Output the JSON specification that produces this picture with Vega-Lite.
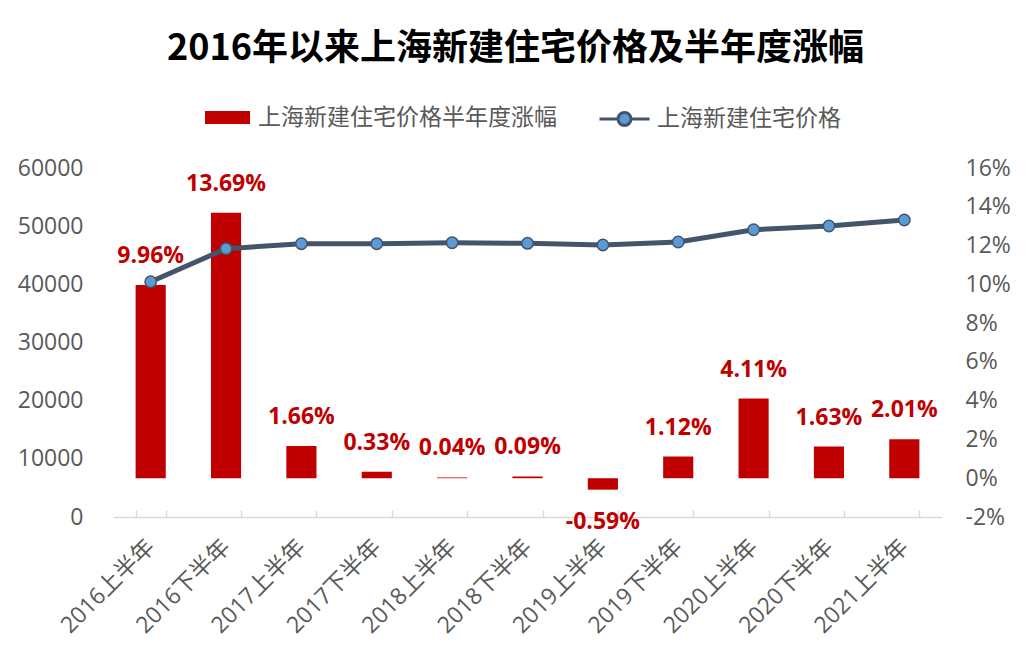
{
  "$schema": "https://vega.github.io/schema/vega-lite/v6.json",
  "autosize": "none",
  "width": 829,
  "height": 349,
  "padding": {"left": 113, "top": 168, "right": 84, "bottom": 143},
  "background": "white",
  "config": {"view": {"stroke": null}, "font": "Open Sans, Noto Sans CJK SC"},
  "title": {
    "text": "2016年以来上海新建住宅价格及半年度涨幅",
    "font": "Noto Sans CJK SC",
    "fontSize": 36,
    "fontWeight": "bold",
    "color": "#000000",
    "anchor": "middle",
    "dx": -12,
    "offset": 25
  },
  "data": {
    "values": [
      {"period": "2016上半年", "pct": 9.96, "label": "9.96%", "price": 40450},
      {"period": "2016下半年", "pct": 13.69, "label": "13.69%", "price": 46130},
      {"period": "2017上半年", "pct": 1.66, "label": "1.66%", "price": 46980},
      {"period": "2017下半年", "pct": 0.33, "label": "0.33%", "price": 46990},
      {"period": "2018上半年", "pct": 0.04, "label": "0.04%", "price": 47160},
      {"period": "2018下半年", "pct": 0.09, "label": "0.09%", "price": 47050},
      {"period": "2019上半年", "pct": -0.59, "label": "-0.59%", "price": 46760},
      {"period": "2019下半年", "pct": 1.12, "label": "1.12%", "price": 47280},
      {"period": "2020上半年", "pct": 4.11, "label": "4.11%", "price": 49390},
      {"period": "2020下半年", "pct": 1.63, "label": "1.63%", "price": 50030},
      {"period": "2021上半年", "pct": 2.01, "label": "2.01%", "price": 51060}
    ]
  },
  "encoding": {
    "x": {
      "field": "period",
      "type": "nominal",
      "sort": null,
      "scale": {"paddingInner": 0.6, "paddingOuter": 0.3},
      "axis": {
        "title": null,
        "labelAngle": -45,
        "labelAlign": "right",
        "labelBaseline": "middle",
        "labelFontSize": 23,
        "labelColor": "#595959",
        "labelPadding": 33,
        "labelOverlap": false,
        "tickBand": "extent",
        "domainColor": "#D9D9D9",
        "domainWidth": 1.5,
        "tickColor": "#D9D9D9",
        "tickWidth": 1.5,
        "tickSize": -7,
        "grid": false
      }
    }
  },
  "layer": [
    {
      "encoding": {
        "y": {
          "field": "pct",
          "type": "quantitative",
          "scale": {"domain": [-2, 16], "nice": false},
          "axis": {
            "orient": "right",
            "title": null,
            "values": [-2, 0, 2, 4, 6, 8, 10, 12, 14, 16],
            "labelExpr": "datum.value + '%'",
            "labelOverlap": false,
            "labelFlush": false,
            "domain": false,
            "ticks": false,
            "grid": false,
            "labelFontSize": 23,
            "labelColor": "#595959",
            "labelPadding": 23
          }
        }
      },
      "layer": [
        {
          "mark": {"type": "bar", "color": "#C00000"},
          "encoding": {
            "y2": {"datum": 0},
            "color": {
              "datum": "上海新建住宅价格半年度涨幅",
              "type": "nominal",
              "scale": {"range": ["#C00000"]},
              "legend": {
                "orient": "none",
                "legendX": 92,
                "legendY": -73,
                "title": null,
                "padding": 0,
                "symbolType": "M-1,-0.29H1V0.29H-1Z",
                "symbolSize": 2025,
                "symbolStrokeWidth": 0,
                "labelFontSize": 23,
                "labelColor": "#595959",
                "labelOffset": 8,
                "labelLimit": 500
              }
            }
          }
        },
        {
          "transform": [{"filter": "datum.pct >= 0"}],
          "mark": {"type": "text", "fontSize": 23, "fontWeight": "bold", "color": "#C00000", "baseline": "alphabetic", "dy": -22},
          "encoding": {
            "text": {"field": "label"}
          }
        },
        {
          "transform": [{"filter": "datum.pct < 0"}],
          "mark": {"type": "text", "fontSize": 23, "fontWeight": "bold", "color": "#C00000", "baseline": "alphabetic", "dy": 39},
          "encoding": {
            "text": {"field": "label"}
          }
        }
      ]
    },
    {
      "encoding": {
        "y": {
          "field": "price",
          "type": "quantitative",
          "scale": {"domain": [0, 60000], "nice": false},
          "axis": {
            "orient": "left",
            "title": null,
            "values": [0, 10000, 20000, 30000, 40000, 50000, 60000],
            "format": "d",
            "labelOverlap": false,
            "labelFlush": false,
            "domain": false,
            "ticks": false,
            "grid": false,
            "labelFontSize": 23,
            "labelColor": "#595959",
            "labelPadding": 30
          }
        }
      },
      "layer": [
        {
          "mark": {"type": "line", "strokeWidth": 5},
          "encoding": {
            "stroke": {
              "datum": "上海新建住宅价格",
              "type": "nominal",
              "scale": {"range": ["#44546A"]},
              "legend": {
                "orient": "none",
                "legendX": 485,
                "legendY": -75.5,
                "title": null,
                "padding": 0,
                "symbolType": "M-1,0H-0.26A0.26,0.26,0,1,1,0.26,0A0.26,0.26,0,1,1,-0.26,0M0.26,0H1",
                "symbolSize": 2500,
                "symbolStrokeWidth": 3,
                "labelFontSize": 23,
                "labelColor": "#595959",
                "labelOffset": 6,
                "labelLimit": 500,
                "encode": {
                  "symbols": {
                    "update": {
                      "fill": {"value": "#5B9BD5"},
                      "stroke": {"value": "#44546A"},
                      "strokeWidth": {"value": 3},
                      "opacity": {"value": 1}
                    }
                  }
                }
              }
            }
          }
        },
        {
          "mark": {"type": "point", "filled": true, "fill": "#5B9BD5", "stroke": "#44546A", "strokeWidth": 1.5, "size": 130, "opacity": 1}
        }
      ]
    }
  ],
  "resolve": {"scale": {"y": "independent"}}
}
